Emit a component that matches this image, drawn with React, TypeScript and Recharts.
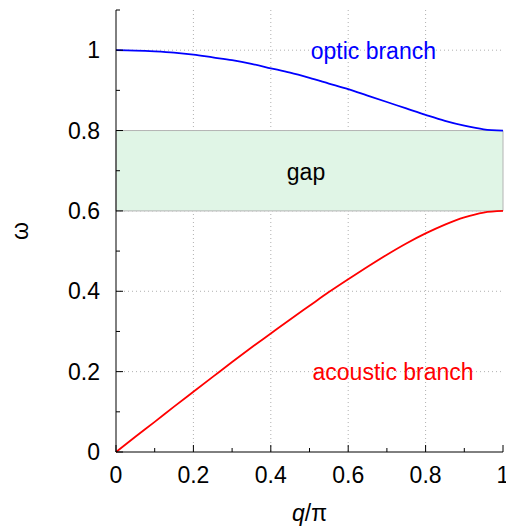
import { CartesianGrid, Line, LineChart, ReferenceArea, ReferenceDot, XAxis, YAxis } from 'recharts';

// q/π sampled every 0.05
const qValues = [0, 0.05, 0.1, 0.15, 0.2, 0.25, 0.3, 0.35, 0.4, 0.45, 0.5, 0.55, 0.6, 0.65, 0.7, 0.75, 0.8, 0.85, 0.9, 0.95, 1];
const acoustic = [0, 0.038, 0.075, 0.113, 0.15, 0.187, 0.224, 0.26, 0.295, 0.33, 0.364, 0.398, 0.43, 0.461, 0.491, 0.519, 0.544, 0.566, 0.584, 0.596, 0.6];
const optic = [1.0, 0.999, 0.997, 0.994, 0.989, 0.982, 0.975, 0.966, 0.955, 0.944, 0.931, 0.917, 0.903, 0.887, 0.871, 0.855, 0.839, 0.824, 0.812, 0.803, 0.8];

const xTicks = [0, 0.1, 0.2, 0.3, 0.4, 0.5, 0.6, 0.7, 0.8, 0.9, 1];
const yTicks = [0, 0.1, 0.2, 0.3, 0.4, 0.5, 0.6, 0.7, 0.8, 0.9, 1, 1.1];
const xMajor = [0, 0.2, 0.4, 0.6, 0.8, 1];
const yMajor = [0, 0.2, 0.4, 0.6, 0.8, 1];
const xGrid = [0.2, 0.4, 0.6, 0.8];
const yGrid = [0.2, 0.4, 0.6, 0.8, 1];
const gapRange = [0.6, 0.8];

const annotations = [
  { text: 'optic branch', q: 0.665, w: 0.998, color: '#0000ff' },
  { text: 'gap', q: 0.491, w: 0.697, color: '#000000' },
  { text: 'acoustic branch', q: 0.716, w: 0.2, color: '#ff0000' },
];

const data = qValues.map((q, i) => ({ q, acoustic: acoustic[i], optic: optic[i] }));

const FONT = '"Liberation Sans", Arial, Helvetica, sans-serif';
const FS = 23;

const isMajor = (v: number, list: number[]) => list.some((m) => Math.abs(m - v) < 1e-9);
const fmt = (v: number) => String(Math.round(v * 10) / 10);

function BottomTick({ x, y, payload }: any) {
  const major = isMajor(payload.value, xMajor);
  return (
    <g>
      <line x1={x} x2={x} y1={y} y2={y - (major ? 7 : 4)} stroke="#000" />
      {major && (
        <text x={x} y={y + 31} textAnchor="middle" fontSize={FS} fontFamily={FONT} fill="#000">
          {fmt(payload.value)}
        </text>
      )}
    </g>
  );
}

function TopTick({ x, y, payload }: any) {
  const major = isMajor(payload.value, xMajor);
  return <line x1={x} x2={x} y1={y} y2={y + (major ? 7 : 4)} stroke="#000" />;
}

function LeftTick({ x, y, payload }: any) {
  const major = isMajor(payload.value, yMajor);
  return (
    <g>
      <line x1={x} x2={x + (major ? 7 : 4)} y1={y} y2={y} stroke="#000" />
      {major && (
        <text x={x - 16} y={y + 8} textAnchor="end" fontSize={FS} fontFamily={FONT} fill="#000">
          {fmt(payload.value)}
        </text>
      )}
    </g>
  );
}

function RightTick({ x, y, payload }: any) {
  const major = isMajor(payload.value, yMajor);
  return <line x1={x} x2={x - (major ? 7 : 4)} y1={y} y2={y} stroke="#000" />;
}

export default function App() {
  return (
    <div style={{ position: 'absolute', left: 0, top: 0, fontFamily: FONT }}>
      <LineChart width={506} height={527} data={data} margin={{ top: 10, right: 3, left: 0, bottom: 0 }}>
        <CartesianGrid
          stroke="#b0b0b0"
          strokeDasharray="1 3"
          horizontalValues={yGrid}
          verticalValues={xGrid}
        />
        <ReferenceArea y1={gapRange[0]} y2={gapRange[1]} fill="#e0f5e6" fillOpacity={1} stroke="#b4b4b4" strokeWidth={1} />
        <XAxis
          dataKey="q"
          type="number"
          domain={[0, 1]}
          ticks={xTicks}
          interval={0}
          height={75}
          tickSize={0}
          tickMargin={0}
          tickLine={false}
          axisLine={{ stroke: '#000' }}
          tick={<BottomTick />}
          label={(props: any) => {
            const vb = props.viewBox;
            return (
              <text x={vb.x + vb.width / 2} y={vb.y + 69} textAnchor="middle" fontSize={FS} fontFamily={FONT} fill="#000">
                <tspan fontStyle="italic">q</tspan>/π
              </text>
            );
          }}
        />
        <XAxis
          xAxisId="top"
          orientation="top"
          type="number"
          domain={[0, 1]}
          allowDataOverflow
          ticks={xTicks}
          interval={0}
          height={0}
          tickSize={0}
          tickMargin={0}
          tickLine={false}
          axisLine={{ stroke: '#000' }}
          tick={<TopTick />}
        />
        <YAxis
          type="number"
          domain={[0, 1.1]}
          ticks={yTicks}
          interval={0}
          width={116}
          tickSize={0}
          tickMargin={0}
          tickLine={false}
          axisLine={{ stroke: '#000' }}
          tick={<LeftTick />}
          label={(props: any) => {
            const vb = props.viewBox;
            const cx = 20;
            const cy = vb.y + vb.height / 2;
            return (
              <text
                x={cx}
                y={cy}
                textAnchor="middle"
                dominantBaseline="central"
                transform={`rotate(-90, ${cx}, ${cy})`}
                fontSize={FS}
                fontFamily={FONT}
                fill="#000"
              >
                ω
              </text>
            );
          }}
        />
        <YAxis
          yAxisId="right"
          orientation="right"
          type="number"
          domain={[0, 1.1]}
          allowDataOverflow
          ticks={yTicks}
          interval={0}
          width={0}
          tickSize={0}
          tickMargin={0}
          tickLine={false}
          axisLine={{ stroke: '#000' }}
          tick={<RightTick />}
        />
        <Line type="monotone" dataKey="optic" stroke="#0000ff" strokeWidth={1.8} dot={false} isAnimationActive={false} />
        <Line type="monotone" dataKey="acoustic" stroke="#ff0000" strokeWidth={1.8} dot={false} isAnimationActive={false} />
        {annotations.map((a) => (
          <ReferenceDot
            key={a.text}
            x={a.q}
            y={a.w}
            r={0}
            fill="none"
            stroke="none"
            label={{ value: a.text, position: 'center', fill: a.color, fontSize: FS, fontFamily: FONT }}
          />
        ))}
      </LineChart>
    </div>
  );
}
